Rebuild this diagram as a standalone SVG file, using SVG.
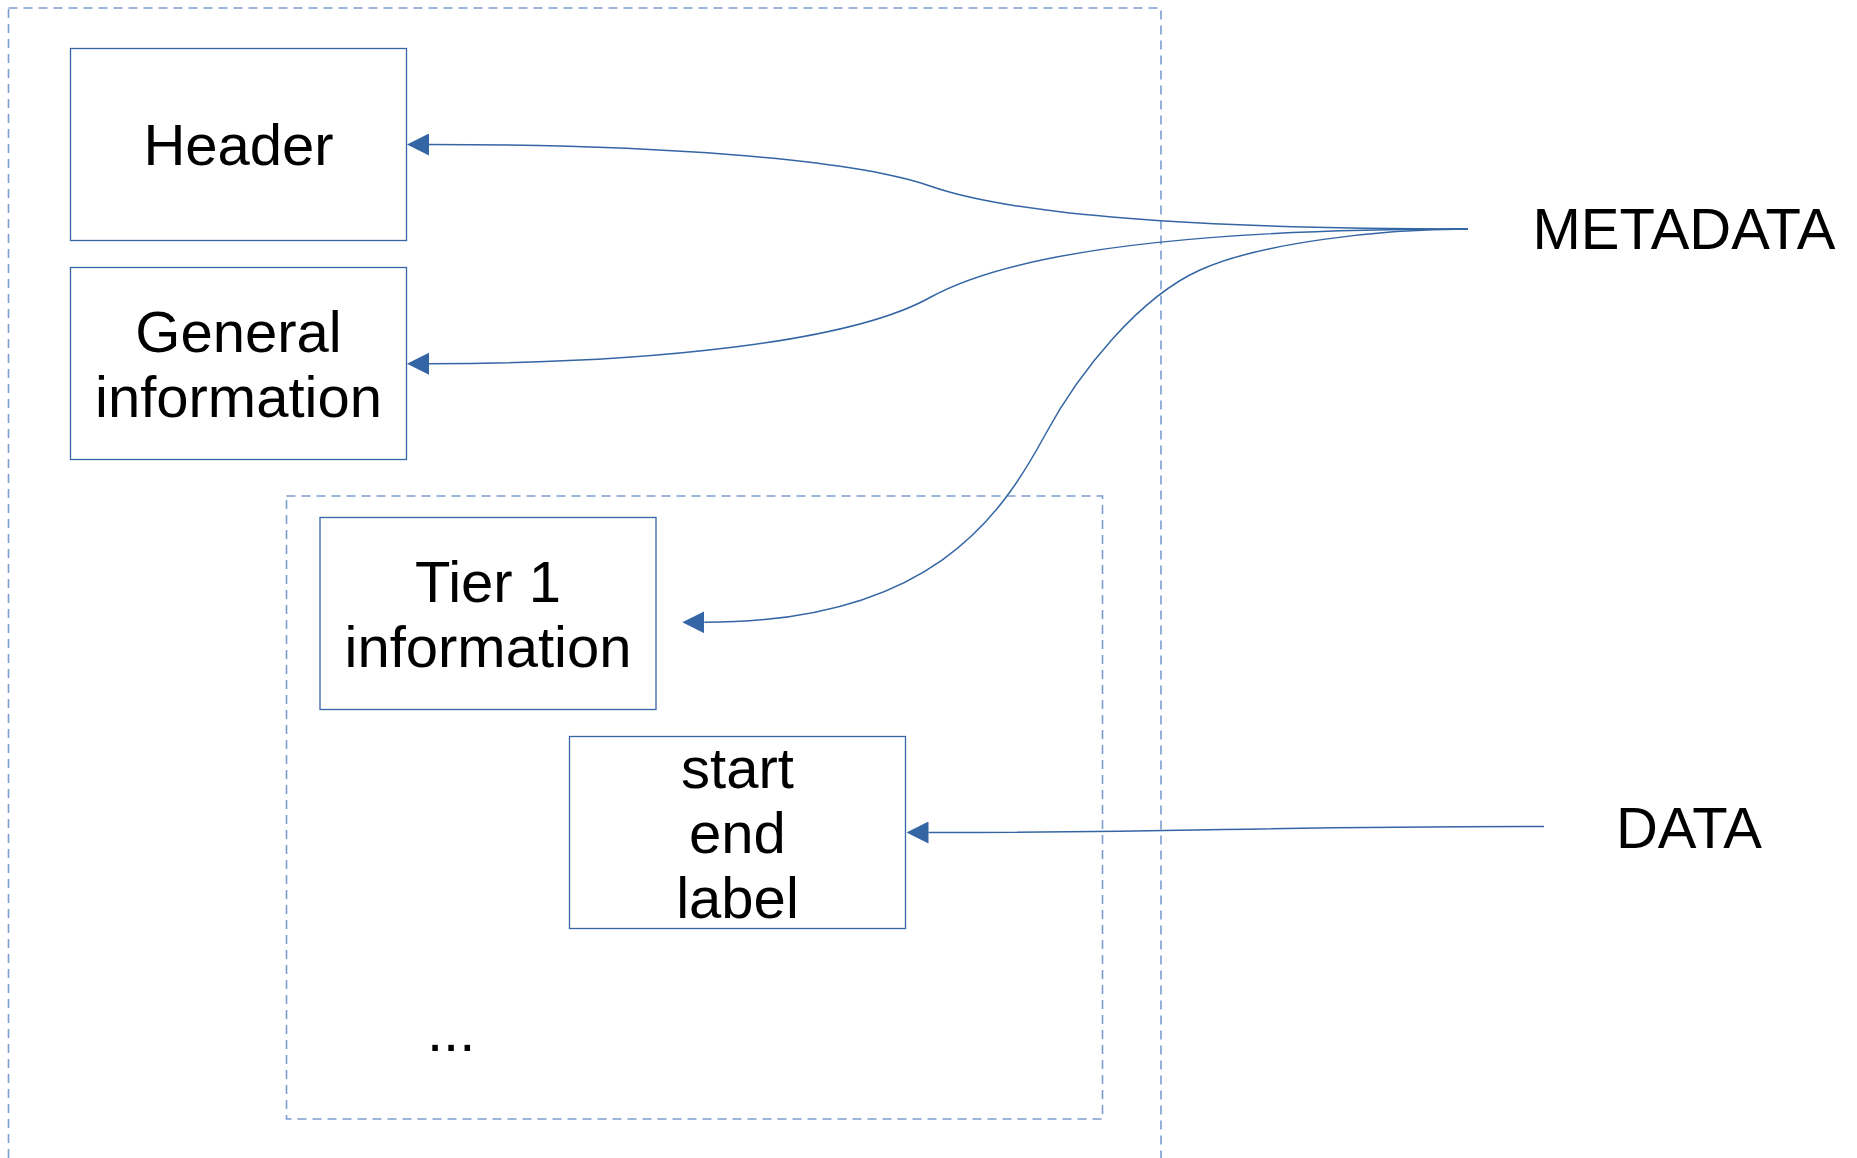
<svg xmlns="http://www.w3.org/2000/svg" width="1857" height="1158" viewBox="0 0 1857 1158">
<style>
.box{fill:#ffffff;stroke:#3465a4;stroke-width:1.3}
.frame{fill:none;stroke:#7b9dd0;stroke-width:1.6;stroke-dasharray:9 6}
.t{font-family:"Liberation Sans",Arial,sans-serif;font-size:58px;fill:#000000;text-anchor:middle}
.lbl{font-family:"Liberation Sans",Arial,sans-serif;font-size:58px;fill:#000000;text-anchor:middle}
.con{fill:none;stroke:#3465a4;stroke-width:1.5;marker-end:url(#arr)}
</style>
<defs>
<marker id="arr" markerUnits="userSpaceOnUse" markerWidth="22" markerHeight="22" viewBox="0 0 22 22" refX="0" refY="11" orient="auto">
<path d="M0,0 L22,11 L0,22 z" fill="#3465a4"/>
</marker>
</defs>
<rect width="1857" height="1158" fill="#ffffff"/>
<g id="outer-frame"><rect class="frame" x="8.5" y="8" width="1152.5" height="1200"/></g>
<g id="tier-frame"><rect class="frame" x="286.5" y="496" width="816" height="623"/></g>
<g id="header"><rect class="box" x="70.5" y="48.5" width="336" height="192"/><text class="t" x="238.5" y="165">Header</text></g>
<g id="general"><rect class="box" x="70.5" y="267.5" width="336" height="192"/><text class="t" x="238.5" y="351.7">General</text><text class="t" x="238.5" y="416.7">information</text></g>
<g id="tier1"><rect class="box" x="320" y="517.5" width="336" height="192"/><text class="t" x="488" y="601.7">Tier 1</text><text class="t" x="488" y="666.7">information</text></g>
<g id="interval"><rect class="box" x="569.5" y="736.5" width="336" height="192"/><text class="t" x="737.5" y="788.2">start</text><text class="t" x="737.5" y="853.2">end</text><text class="t" x="737.5" y="918.2">label</text></g>
<g id="ellipsis"><text class="t" x="427" y="1051" style="text-anchor:start">...</text></g>
<g id="metadata"><text class="lbl" x="1684" y="249.3">METADATA</text></g>
<g id="data"><text class="lbl" x="1689" y="848">DATA</text></g>
<g id="connectors">
<path class="con" d="M1468,229 C1180,229 1010,214 930,186 C850,158 650,144.5 429,144.5"/>
<path class="con" d="M1468,229 C1180,229 1010,252.9 930,297.5 C850,342.2 650,363.7 429,363.7"/>
<path class="con" d="M1468,229 C1380,229 1260,243 1200,270 C1140,297 1080,370 1045,435 C1000,518 930,622.3 704.3,622.3"/>
<path class="con" d="M1544,826.5 C1225,826.5 1225,832.5 928.5,832.5"/>
</g>
</svg>
